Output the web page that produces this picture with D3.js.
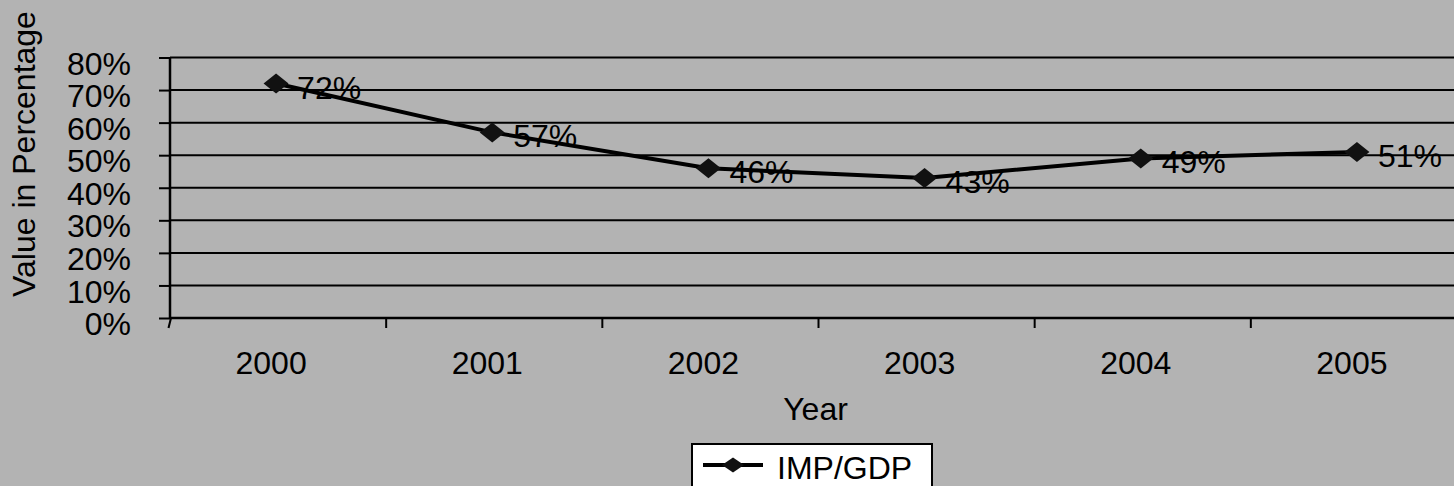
<!DOCTYPE html>
<html>
<head>
<meta charset="utf-8">
<script src="https://cdn.jsdelivr.net/npm/d3@7"></script>
<style>
  html, body { margin: 0; padding: 0; background: #b3b3b3; }
  svg { display: block; }
  text { font-family: "Liberation Sans", Arial, sans-serif; fill: #000; }
</style>
</head>
<body>
<svg id="chart" width="1454" height="486"></svg>
<script>
// Import share of GDP by year
const years = ["2000", "2001", "2002", "2003", "2004", "2005"];
const impGdp = [0.72, 0.57, 0.46, 0.43, 0.49, 0.51];
const yTicks = [0, 0.1, 0.2, 0.3, 0.4, 0.5, 0.6, 0.7, 0.8];
const seriesName = "IMP/GDP";
const xTitle = "Year";
const yTitle = "Value in Percentage";

const W = 1454, H = 486;
const FONT = 32;
const plot = { left: 170, right: 1467, top: 57.5, bottom: 318 };

const svg = d3.select("#chart");
svg.append("rect").attr("width", W).attr("height", H).attr("fill", "#b3b3b3");

const x = d3.scaleBand().domain(years).range([plot.left, plot.right]).padding(0);
const y = d3.scaleLinear().domain([0, 0.8]).range([plot.bottom, plot.top]);
const pct = d3.format(".0%");

// Horizontal gridlines
svg.append("g")
  .selectAll("line")
  .data(yTicks.filter(d => d > 0))
  .join("line")
  .attr("x1", plot.left).attr("x2", W)
  .attr("y1", d => y(d)).attr("y2", d => y(d))
  .attr("stroke", "#000").attr("stroke-width", 2);

// Y axis
const yAxis = svg.append("g")
  .attr("transform", `translate(${plot.left},0)`)
  .call(d3.axisLeft(y).tickValues(yTicks).tickFormat(pct).tickSize(11).tickPadding(28));
yAxis.select(".domain").attr("stroke", "#000").attr("stroke-width", 2.5)
  .attr("d", `M0,${plot.top}V${plot.bottom}`);
yAxis.selectAll(".tick line").attr("stroke", "#000").attr("stroke-width", 2);
yAxis.selectAll(".tick text")
  .attr("font-size", FONT).attr("font-family", "Liberation Sans, Arial, sans-serif")
  .attr("fill", "#000").attr("dy", "0.52em");

// X axis with category boundary ticks
const boundaries = years.map(d => x(d));
const xAxis = svg.append("g").attr("transform", `translate(0,${plot.bottom})`);
xAxis.append("line")
  .attr("x1", plot.left).attr("x2", W)
  .attr("stroke", "#000").attr("stroke-width", 2.5);
xAxis.selectAll("line.tick")
  .data(boundaries)
  .join("line")
  .attr("class", "tick")
  .attr("x1", (d, i) => i === 0 ? d + 1 : d)
  .attr("x2", (d, i) => i === 0 ? d - 1.5 : d)
  .attr("y1", 0).attr("y2", 10)
  .attr("stroke", "#000").attr("stroke-width", 2);
xAxis.selectAll("text")
  .data(years)
  .join("text")
  .attr("x", d => x(d) + x.bandwidth() / 2 - 7)
  .attr("y", 56)
  .attr("text-anchor", "middle")
  .attr("font-size", FONT)
  .text(d => d);

// Axis titles
svg.append("text")
  .attr("x", (plot.left + plot.right) / 2 - 3)
  .attr("y", 420)
  .attr("text-anchor", "middle")
  .attr("font-size", FONT)
  .text(xTitle);

svg.append("text")
  .attr("transform", "translate(35,154) rotate(-90)")
  .attr("text-anchor", "middle")
  .attr("font-size", FONT)
  .text(yTitle);

// Series line
const cx = d => x(d) + x.bandwidth() / 2 - 2;
const pts = years.map((d, i) => ({ year: d, v: impGdp[i] }));
svg.append("path")
  .datum(pts)
  .attr("fill", "none")
  .attr("stroke", "#000")
  .attr("stroke-width", 4)
  .attr("stroke-linejoin", "round")
  .attr("d", d3.line().x(d => cx(d.year)).y(d => y(d.v)));

// Diamond markers
const diamond = (w, h) => `M0,${-h/2}L${w/2},0L0,${h/2}L${-w/2},0Z`;
svg.append("g")
  .selectAll("path")
  .data(pts)
  .join("path")
  .attr("transform", d => `translate(${cx(d.year)},${y(d.v)})`)
  .attr("d", diamond(25, 20))
  .attr("fill", "#111");

// Data labels
svg.append("g")
  .selectAll("text")
  .data(pts)
  .join("text")
  .attr("x", d => cx(d.year) + 21)
  .attr("y", d => y(d.v) + 15)
  .attr("font-size", FONT)
  .text(d => pct(d.v));

// Legend
const lg = svg.append("g").attr("transform", "translate(692,444)");
lg.append("rect")
  .attr("width", 240).attr("height", 60)
  .attr("fill", "#fff").attr("stroke", "#000").attr("stroke-width", 2);
lg.append("line")
  .attr("x1", 11).attr("x2", 71).attr("y1", 21).attr("y2", 21)
  .attr("stroke", "#000").attr("stroke-width", 4);
lg.append("path")
  .attr("transform", "translate(41,21)")
  .attr("d", diamond(22, 15))
  .attr("fill", "#111");
lg.append("text")
  .attr("x", 85).attr("y", 35)
  .attr("font-size", FONT)
  .text(seriesName);
</script>
</body>
</html>
